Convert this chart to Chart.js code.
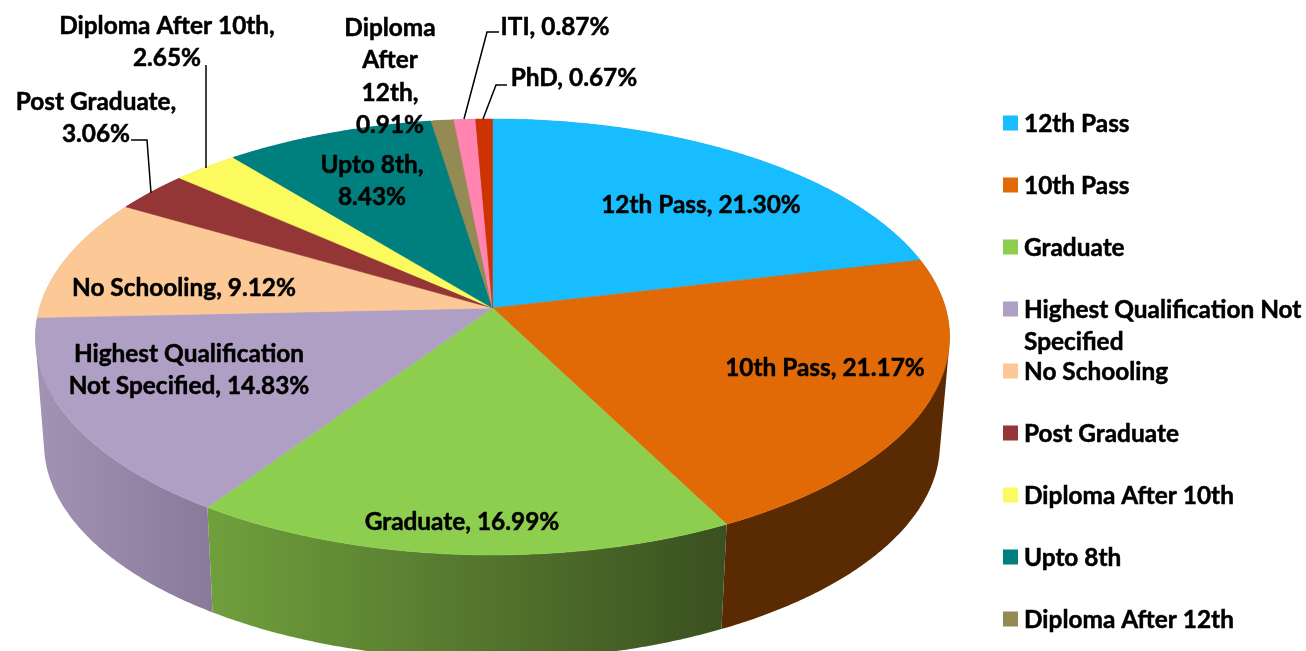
<!DOCTYPE html>
<html>
<head>
<meta charset="utf-8">
<style>
  html, body { margin: 0; padding: 0; background: #fff; overflow: hidden; }
  canvas { display: block; }
</style>
<script src="https://cdn.jsdelivr.net/npm/chart.js@4"></script>
</head>
<body>
<canvas id="pie" width="1306" height="651"></canvas>
<script>
const categories = ['12th Pass', '10th Pass', 'Graduate', 'Highest Qualification Not Specified', 'No Schooling',
  'Post Graduate', 'Diploma After 10th', 'Upto 8th', 'Diploma After 12th', 'ITI', 'PhD'];
const shares = [21.30, 21.17, 16.99, 14.83, 9.12, 3.06, 2.65, 8.43, 0.91, 0.87, 0.67];
const topColors = ['#17BDFF', '#E16A07', '#8ECE4F', '#B09FC4', '#FCC896', '#943636', '#FBFB5F', '#007F7F', '#948A54', '#FF85B0', '#CC3300'];

// side wall shading, left and right end of each slice
const sideLeft = ['#0E7FAD', '#5A2A02', '#70A03C', '#A293B5', '#A293B5', '#6B2626', '#A8A83E', '#005555', '#635C38', '#AD5A78', '#8A2200'];
const sideRight = ['#0E7FAD', '#5A2A02', '#3A5020', '#89799A', '#A293B5', '#6B2626', '#A8A83E', '#005555', '#635C38', '#AD5A78', '#8A2200'];

// how many words go on each line of a slice label
const labelWraps = [[3], [3], [2], [2, 3], [3], [2, 1], [3, 1], [2, 1], [1, 1, 1, 1], [2], [2]];
const labelCentres = [[701, 205], [825, 368], [462, 522], [189, 354], [184, 288], [96, 102], [167, 26], [372, 165], [390, 28], [555, 27], [574, 78]];
const leaders = {
  5: [[131, 140], [147, 140], [151, 193]],
  6: [[206, 65], [206, 168]],
  9: [[499, 32], [487, 32], [464, 119]],
  10: [[507, 85], [496, 85], [483, 119]]
};

const legendLines = [['12th Pass'], ['10th Pass'], ['Graduate'], ['Highest Qualification Not', 'Specified'], ['No Schooling'],
  ['Post Graduate'], ['Diploma After 10th'], ['Upto 8th'], ['Diploma After 12th']];

const labelFont = 'bold 24.4px Lato';
const lineGap = 32.5;

// perspective view of the pie disc, k is the foreshortening
const k = 0.133;
const topFace = { cx: 492.5, cy: 308, rx: 453, ry: 214.1 };
const lowFace = { cx: 492, cy: 415, rx: 444, ry: 212 };

function project(face, angle, r) {
  const a = angle + Math.PI / 2;
  const u = Math.sin(a) * r;
  const v = -Math.cos(a) * r;
  const w = 1 - k * v;
  return [face.cx + face.rx * u / w, face.cy + face.ry * v / w];
}

function arcPoints(face, start, end) {
  const pts = [];
  const steps = Math.max(4, Math.ceil((end - start) * 120));
  for (let i = 0; i <= steps; i++) {
    pts.push(project(face, start + (end - start) * i / steps, 1));
  }
  return pts;
}

function tracePoly(ctx, pts) {
  pts.forEach((p, i) => i ? ctx.lineTo(p[0], p[1]) : ctx.moveTo(p[0], p[1]));
  ctx.closePath();
}

// all quads must wind the same way or the overlaps near the silhouette cancel out
function wound(pts) {
  let area = 0;
  pts.forEach((p, i) => {
    const q = pts[(i + 1) % pts.length];
    area += p[0] * q[1] - q[0] * p[1];
  });
  return area < 0 ? pts.slice().reverse() : pts;
}

function boldText(ctx, text, x, y) {
  ctx.fillText(text, x, y);
  ctx.strokeText(text, x, y);
}

function sliceLabel(i) {
  const words = (categories[i] + ', ' + shares[i].toFixed(2) + '%').split(' ');
  let pos = 0;
  return labelWraps[i].map(n => {
    const line = words.slice(pos, pos + n).join(' ');
    pos += n;
    return line;
  });
}

const perspectivePie = {
  id: 'perspectivePie',
  beforeDatasetsDraw(chart) {
    const ctx = chart.ctx;
    const arcs = chart.getDatasetMeta(0).data;

    // walls, back slices first, quads per arc step in one path so the outline stays tangent
    ctx.save();
    [10, 9, 8, 7, 6, 5, 4, 0, 1, 3, 2].forEach(i => {
      const top = arcPoints(topFace, arcs[i].startAngle, arcs[i].endAngle);
      const low = arcPoints(lowFace, arcs[i].startAngle, arcs[i].endAngle);
      const xs = top.concat(low).map(p => p[0]);
      const g = ctx.createLinearGradient(Math.min(...xs), 0, Math.max(...xs), 0);
      g.addColorStop(0, sideLeft[i]);
      g.addColorStop(1, sideRight[i]);
      ctx.beginPath();
      for (let s = 0; s < top.length - 1; s++) {
        tracePoly(ctx, wound([top[s], top[s + 1], low[s + 1], low[s]]));
      }
      ctx.fillStyle = g;
      ctx.fill();
    });

    // top face
    arcs.forEach((arc, i) => {
      const pts = arcPoints(topFace, arc.startAngle, arc.endAngle);
      pts.push(project(topFace, 0, 0));
      ctx.beginPath();
      tracePoly(ctx, pts);
      ctx.fillStyle = topColors[i];
      ctx.fill();
      ctx.strokeStyle = topColors[i];
      ctx.lineWidth = 0.6;
      ctx.stroke();
    });

    // leader lines
    ctx.strokeStyle = '#000';
    ctx.lineWidth = 1.5;
    Object.values(leaders).forEach(line => {
      ctx.beginPath();
      line.forEach((p, i) => i ? ctx.lineTo(p[0], p[1]) : ctx.moveTo(p[0], p[1]));
      ctx.stroke();
    });

    // slice labels
    ctx.fillStyle = '#000';
    ctx.font = labelFont;
    ctx.lineWidth = 0.5;
    ctx.textAlign = 'center';
    ctx.textBaseline = 'middle';
    arcs.forEach((arc, i) => {
      sliceLabel(i).forEach((line, n) => {
        boldText(ctx, line, labelCentres[i][0], labelCentres[i][1] + n * lineGap);
      });
    });

    // legend, the last two entries fall off the bottom in the original
    ctx.textAlign = 'left';
    legendLines.forEach((lines, i) => {
      const y = 123 + i * 62;
      ctx.fillStyle = topColors[i];
      ctx.fillRect(1003, y - 7.5, 15, 15);
      ctx.fillStyle = '#000';
      lines.forEach((line, n) => boldText(ctx, line, 1024, y + 1 + n * lineGap));
    });
    ctx.restore();
    return false;
  }
};

new Chart(document.getElementById('pie'), {
  type: 'pie',
  data: {
    labels: categories,
    datasets: [{ data: shares, backgroundColor: topColors, borderWidth: 0 }]
  },
  options: {
    responsive: false,
    animation: false,
    plugins: {
      legend: { display: false },
      tooltip: { enabled: false }
    }
  },
  plugins: [perspectivePie]
});
</script>
</body>
</html>
